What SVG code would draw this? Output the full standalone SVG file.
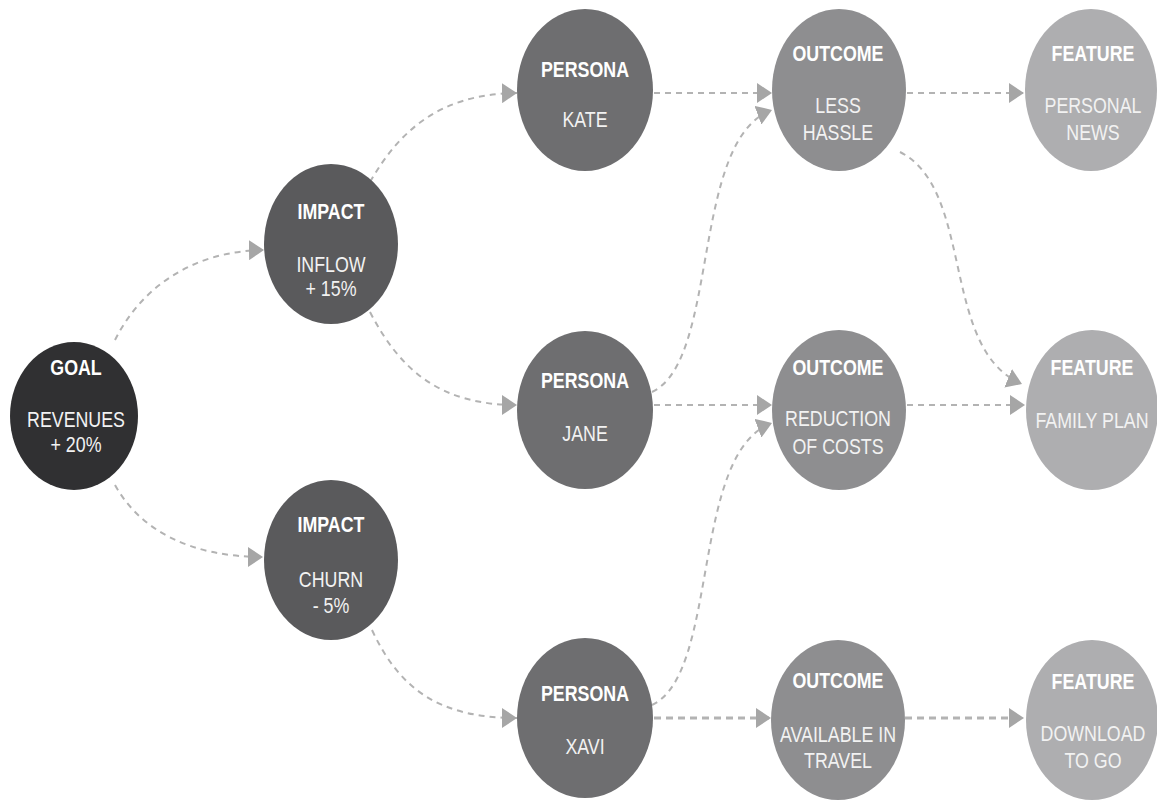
<svg xmlns="http://www.w3.org/2000/svg" width="1157" height="803" viewBox="0 0 1157 803">
  <style>
    text { font-family: "Liberation Sans", Arial, sans-serif; text-anchor: middle; fill: #f2f2f2; }
    .hd { font-weight: bold; font-size: 22px; fill: #ffffff; }
    .tx { font-size: 22px; }
    .goal { fill: #303032; }
    .impact { fill: #5a5a5c; }
    .persona { fill: #6e6e70; }
    .outcome { fill: #8e8e90; }
    .feature { fill: #aeaeb0; }
    .link { fill: none; stroke: #b3b3b3; stroke-width: 2; stroke-dasharray: 6 5; marker-end: url(#arrow); }
    .link.heavy { stroke-width: 3.2; stroke-dasharray: 7 5; }
  </style>
  <defs>
    <marker id="arrow" markerUnits="userSpaceOnUse" markerWidth="16" markerHeight="20" refX="15" refY="10" orient="auto">
      <path d="M0,0 L15,10 L0,20 z" fill="#a6a6a6"/>
    </marker>
  </defs>
  <rect width="1157" height="803" fill="#ffffff"/>

  <g id="connectors">
    <path class="link" d="M115,340 C140,290 190,251 264,250"/>
    <path class="link" d="M115,485 C140,530 190,557 263,557"/>
    <path class="link" d="M370,182 C400,130 440,94 517,93"/>
    <path class="link" d="M370,312 C400,370 440,405 517,405"/>
    <path class="link" d="M372,630 C400,690 440,718 517,718"/>
    <path class="link" d="M654,93 L772,93"/>
    <path class="link" d="M652,392 C720,360 690,140 772,110"/>
    <path class="link" d="M654,405 L772,405"/>
    <path class="link" d="M652,705 C720,673 690,453 772,423"/>
    <path class="link heavy" d="M654,718 L771,718"/>
    <path class="link" d="M907,93 L1024,93"/>
    <path class="link" d="M900,152 C975,190 940,350 1022,384"/>
    <path class="link" d="M907,405 L1025,405"/>
    <path class="link heavy" d="M905,718 L1024,718"/>
  </g>

  <!-- labels use a condensed set: each node's text is narrowed around its centre -->
  <g id="goal">
    <ellipse class="goal" cx="74" cy="416" rx="64" ry="74"/>
    <g transform="translate(76 0) scale(0.81 1)">
      <text class="hd" x="0" y="375">GOAL</text>
      <text class="tx" x="0" y="427">REVENUES</text>
      <text class="tx" x="0" y="452">+ 20%</text>
    </g>
  </g>

  <g id="impact-inflow">
    <ellipse class="impact" cx="331" cy="244" rx="67" ry="80"/>
    <g transform="translate(331 0) scale(0.81 1)">
      <text class="hd" x="0" y="219">IMPACT</text>
      <text class="tx" x="0" y="272">INFLOW</text>
      <text class="tx" x="0" y="296">+ 15%</text>
    </g>
  </g>

  <g id="impact-churn">
    <ellipse class="impact" cx="331" cy="560" rx="67" ry="80"/>
    <g transform="translate(331 0) scale(0.81 1)">
      <text class="hd" x="0" y="532">IMPACT</text>
      <text class="tx" x="0" y="587">CHURN</text>
      <text class="tx" x="0" y="613">- 5%</text>
    </g>
  </g>

  <g id="persona-kate">
    <ellipse class="persona" cx="585" cy="90" rx="68" ry="81"/>
    <g transform="translate(585 0) scale(0.81 1)">
      <text class="hd" x="0" y="77">PERSONA</text>
      <text class="tx" x="0" y="127">KATE</text>
    </g>
  </g>

  <g id="persona-jane">
    <ellipse class="persona" cx="585" cy="410" rx="68" ry="79"/>
    <g transform="translate(585 0) scale(0.81 1)">
      <text class="hd" x="0" y="388">PERSONA</text>
      <text class="tx" x="0" y="441">JANE</text>
    </g>
  </g>

  <g id="persona-xavi">
    <ellipse class="persona" cx="585" cy="718" rx="68" ry="80"/>
    <g transform="translate(585 0) scale(0.81 1)">
      <text class="hd" x="0" y="701">PERSONA</text>
      <text class="tx" x="0" y="754">XAVI</text>
    </g>
  </g>

  <g id="outcome-less-hassle">
    <ellipse class="outcome" cx="839" cy="90" rx="67" ry="81"/>
    <g transform="translate(838 0) scale(0.81 1)">
      <text class="hd" x="0" y="61">OUTCOME</text>
      <text class="tx" x="0" y="113">LESS</text>
      <text class="tx" x="0" y="140">HASSLE</text>
    </g>
  </g>

  <g id="outcome-reduction">
    <ellipse class="outcome" cx="839" cy="410" rx="67" ry="80"/>
    <g transform="translate(838 0) scale(0.81 1)">
      <text class="hd" x="0" y="375">OUTCOME</text>
      <text class="tx" x="0" y="426">REDUCTION</text>
      <text class="tx" x="0" y="454">OF COSTS</text>
    </g>
  </g>

  <g id="outcome-available">
    <ellipse class="outcome" cx="838" cy="720" rx="67" ry="80"/>
    <g transform="translate(838 0) scale(0.81 1)">
      <text class="hd" x="0" y="688">OUTCOME</text>
      <text class="tx" x="0" y="742">AVAILABLE IN</text>
      <text class="tx" x="0" y="768">TRAVEL</text>
    </g>
  </g>

  <g id="feature-personal-news">
    <ellipse class="feature" cx="1091" cy="90" rx="66" ry="81"/>
    <g transform="translate(1093 0) scale(0.81 1)">
      <text class="hd" x="0" y="61">FEATURE</text>
      <text class="tx" x="0" y="113">PERSONAL</text>
      <text class="tx" x="0" y="140">NEWS</text>
    </g>
  </g>

  <g id="feature-family-plan">
    <ellipse class="feature" cx="1092" cy="410" rx="66" ry="80"/>
    <g transform="translate(1092 0) scale(0.81 1)">
      <text class="hd" x="0" y="375">FEATURE</text>
      <text class="tx" x="0" y="428">FAMILY PLAN</text>
    </g>
  </g>

  <g id="feature-download">
    <ellipse class="feature" cx="1092" cy="720" rx="66" ry="80"/>
    <g transform="translate(1093 0) scale(0.81 1)">
      <text class="hd" x="0" y="689">FEATURE</text>
      <text class="tx" x="0" y="741">DOWNLOAD</text>
      <text class="tx" x="0" y="768">TO GO</text>
    </g>
  </g>
</svg>
